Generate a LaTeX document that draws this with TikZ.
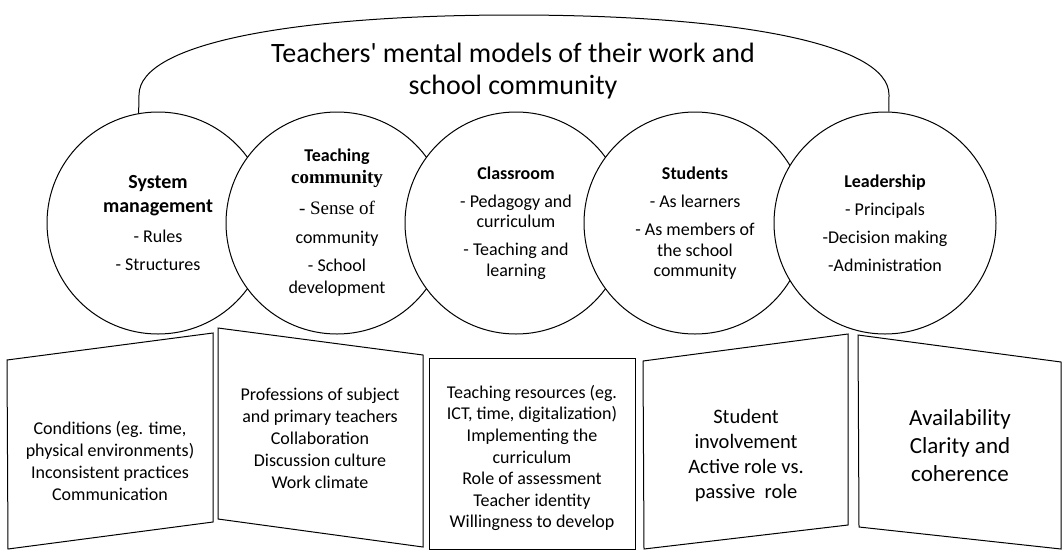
\documentclass[tikz,border=0pt]{standalone}
\usepackage{fontspec}
\setmainfont{Carlito}
\newfontfamily\seriffont{Liberation Serif}
\newcommand{\hdA}[1]{{\fontsize{20}{24}\selectfont\bfseries #1}}
\newcommand{\hdB}[1]{{\fontsize{18}{24}\selectfont\bfseries #1}}
\begin{document}
\begin{tikzpicture}[x=1pt,y=-1pt,line width=1pt,
  bubble/.style={circle,draw,fill=white,minimum size=222pt,inner sep=0pt,align=center,font=\fontsize{18}{24}\selectfont},
  panel/.style={draw,fill=white,line join=miter},
  paneltext/.style={align=center,inner sep=0pt}]
\useasboundingbox (0,0) rectangle (1063,550);
% title
\node[align=center,font=\fontsize{28}{32}\selectfont] (title) at (513,71) {Teachers\textquotesingle\ mental models of their work and\\school community};
% circles
\node[bubble] (c1) at (158,223) {\hdA{System}\\\hdA{management}\\[6pt]- Rules\\[4pt]- Structures};
\node[bubble] (c2) at (337,223) {\hdB{Teaching}\\[-2pt]{\seriffont\fontsize{19}{24}\selectfont\bfseries community}\\[7pt]{\seriffont\fontsize{19}{24}\selectfont - Sense of}\\[5pt]community\\[4pt]- School\\[-2pt]development};
\node[bubble] (c3) at (516,223) {\hdB{Classroom}\\[4pt]- Pedagogy and\\[-4pt]curriculum\\[4pt]- Teaching and\\[-3pt]learning};
\node[bubble] (c4) at (695,223) {\hdB{Students}\\[4pt]- As learners\\[4pt]- As members of\\[-3pt]the school\\[-4pt]community};
\node[bubble] (c5) at (885,223) {\hdB{Leadership}\\[4pt]- Principals\\[4pt]-Decision making\\[4pt]-Administration};
% arch
\coordinate (apex) at (514,15);
\draw (c1.100) -- (139,95) .. controls (139,42) and (300,15) .. (apex) .. controls (728,15) and (889,42) .. (889,95) -- (c5.88);
% panels
\draw[panel] (7,360) -- (213,333) -- (213,522) -- (8,549) -- cycle;
\draw[panel] (218,328) -- (423,355) -- (423,547) -- (218,519) -- cycle;
\draw[panel] (429,358) rectangle (635,549);
\draw[panel] (643,361) -- (848,334) -- (848,525) -- (644,549) -- cycle;
\draw[panel] (858,335) -- (1061,362) -- (1061,549) -- (859,527) -- cycle;
\node[paneltext,font=\fontsize{18}{22}\selectfont] (b1) at (110,461) {Conditions (eg. time,\\physical environments)\\Inconsistent practices\\Communication};
\node[paneltext,font=\fontsize{18}{22}\selectfont] (b2) at (320,438) {Professions of subject\\and primary teachers\\Collaboration\\Discussion culture\\Work climate};
\node[paneltext,font=\fontsize{18}{21.6}\selectfont] (b3) at (532,458) {Teaching resources (eg.\\ICT, time, digitalization)\\Implementing the\\curriculum\\Role of assessment\\Teacher identity\\Willingness to develop};
\node[paneltext,font=\fontsize{20.5}{25}\selectfont] (b4) at (746,456) {Student\\involvement\\Active role vs.\\passive\ \ role};
\node[paneltext,font=\fontsize{23}{28}\selectfont] (b5) at (960,446) {Availability\\Clarity and\\coherence};
\end{tikzpicture}
\end{document}
